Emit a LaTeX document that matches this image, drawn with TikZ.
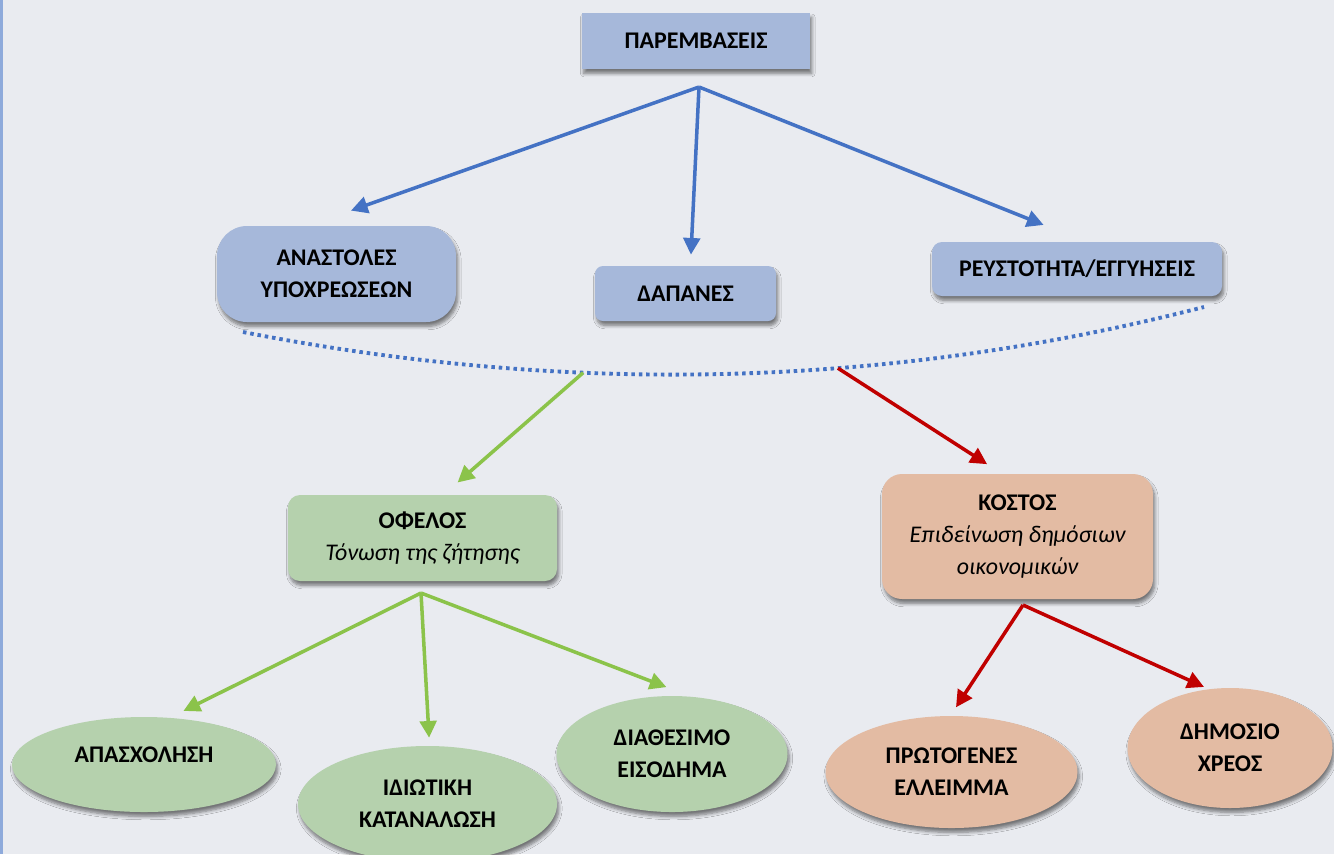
\documentclass[tikz,border=0pt]{standalone}
\usepackage{fontspec}
\setmainfont{Carlito}
\usetikzlibrary{arrows.meta,shapes.geometric,shadows.blur}
\definecolor{pagebg}{HTML}{E9EBF0}
\definecolor{edgeblue}{HTML}{8EAADB}
\definecolor{boxblue}{HTML}{A6B8DA}
\definecolor{lineblue}{HTML}{4472C4}
\definecolor{boxgreen}{HTML}{B5D1AD}
\definecolor{linegreen}{HTML}{8BC34A}
\definecolor{boxtan}{HTML}{E3BBA3}
\definecolor{linered}{HTML}{C00000}

\begin{document}
\begin{tikzpicture}[
  soft shadow/.style={blur shadow={shadow xshift=1pt, shadow yshift=-2.5pt, shadow blur steps=6, shadow opacity=50}},
  box/.style={soft shadow, align=center, inner sep=0pt, font=\bfseries\fontsize{13.6}{18.2}\selectfont},
  oval/.style={box, ellipse},
  link/.style={-{Triangle[length=9.5pt,width=9.5pt]}, line width=2pt},
  dotted arc/.style={lineblue, line width=2.2pt, dash pattern=on 2pt off 2.2pt},
]

% ===== background =====
\useasboundingbox (0,0) rectangle (26.68,-17.08);
\fill[pagebg] (0,0) rectangle (26.68,-17.08);
\fill[edgeblue] (0,0) rectangle (0.05,-17.08);

% ===== top level =====
\node[box, fill=boxblue, minimum width=4.56cm, minimum height=1.12cm] (parem) at (13.92,-0.82) {ΠΑΡΕΜΒΑΣΕΙΣ};
\coordinate (bluehub) at (13.98,-1.74);

% ===== measures =====
\node[box, fill=boxblue, rounded corners=0.6cm, minimum width=4.78cm, minimum height=1.92cm] (anast) at (6.73,-5.48) {ΑΝΑΣΤΟΛΕΣ\\ΥΠΟΧΡΕΩΣΕΩΝ};
\node[box, fill=boxblue, rounded corners=0.16cm, minimum width=3.62cm, minimum height=1.10cm] (dapan) at (13.71,-5.87) {ΔΑΠΑΝΕΣ};
\node[box, fill=boxblue, rounded corners=0.2cm, minimum width=5.80cm, minimum height=1.08cm] (reust) at (21.54,-5.38) {ΡΕΥΣΤΟΤΗΤΑ/ΕΓΓΥΗΣΕΙΣ};

\draw[link, lineblue, shorten >=0.9cm] (bluehub) -- (anast.120);
\draw[link, lineblue, shorten >=0.22cm] (bluehub) -- (dapan.80);
\draw[link, lineblue, shorten >=0.9cm] (bluehub) -- (reust.73);

% dotted arc under the three measures
\coordinate (arcL) at (4.86,-6.64);
\coordinate (arcR) at (24.08,-6.14);
\draw[dotted arc] (arcL) .. controls (11.38,-7.92) and (17.78,-7.76) ..
  coordinate[pos=0.35] (gstart) coordinate[pos=0.615] (rstart) (arcR);

% ===== benefit / cost =====
\node[box, fill=boxgreen, rounded corners=0.24cm, minimum width=5.38cm, minimum height=1.72cm] (ofel) at (8.45,-10.76)
  {ΟΦΕΛΟΣ\\{\mdseries\itshape Τόνωση της ζήτησης}};
\node[box, fill=boxtan, rounded corners=0.4cm, minimum width=5.42cm, minimum height=2.50cm] (kost) at (20.35,-10.73)
  {ΚΟΣΤΟΣ\\{\mdseries\itshape Επιδείνωση δημόσιων}\\{\mdseries\itshape οικονομικών}};

\draw[link, linegreen, shorten >=0.37cm] (gstart) -- (ofel.64);
\draw[link, linered, shorten >=0.35cm] (rstart) -- (kost.104);

\coordinate (greenhub) at (8.42,-11.86);
\coordinate (redhub) at (20.46,-12.10);

% ===== effects =====
\node[oval, fill=boxgreen, minimum width=5.28cm, minimum height=1.90cm, text depth=0.4cm] (apasx) at (2.88,-15.29) {ΑΠΑΣΧΟΛΗΣΗ};
\node[oval, fill=boxgreen, minimum width=5.18cm, minimum height=2.32cm] (idiot) at (8.55,-16.08) {ΙΔΙΩΤΙΚΗ\\ΚΑΤΑΝΑΛΩΣΗ};
\node[oval, fill=boxgreen, minimum width=4.62cm, minimum height=2.32cm] (diath) at (13.44,-15.08) {ΔΙΑΘΕΣΙΜΟ\\ΕΙΣΟΔΗΜΑ};
\node[oval, fill=boxtan, minimum width=5.04cm, minimum height=2.24cm] (protog) at (19.03,-15.44) {ΠΡΩΤΟΓΕΝΕΣ\\ΕΛΛΕΙΜΜΑ};
\node[oval, fill=boxtan, minimum width=4.10cm, minimum height=2.40cm] (dimos) at (24.6,-14.96) {ΔΗΜΟΣΙΟ\\ΧΡΕΟΣ};

\draw[link, linegreen, shorten >=0.3cm] (greenhub) -- (apasx.61);
\draw[link, linegreen, shorten >=0.16cm] (greenhub) -- (idiot.88);
\draw[link, linegreen, shorten >=0.52cm] (greenhub) -- (diath.72);
\draw[link, linered, shorten >=0.2cm] (redhub) -- (protog.91);
\draw[link, linered, shorten >=0.1cm] (redhub) -- (dimos.110);

\end{tikzpicture}
\end{document}
